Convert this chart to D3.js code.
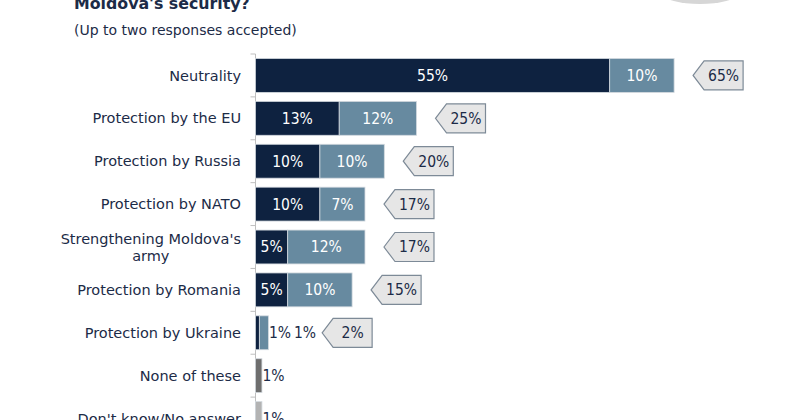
<!DOCTYPE html>
<html><head><meta charset="utf-8">
<script src="https://cdn.jsdelivr.net/npm/d3@7"></script>
<style>body{margin:0;background:#fff;}svg{display:block;font-family:"DejaVu Sans",sans-serif;}.num{font-family:"DejaVu Sans Condensed","DejaVu Sans",sans-serif;font-stretch:condensed;}</style>
</head><body><svg id="c" width="800" height="420"></svg>
<script>
const categories = ["Neutrality","Protection by the EU","Protection by Russia","Protection by NATO","Strengthening Moldova's army","Protection by Romania","Protection by Ukraine","None of these","Don't know/No answer"];
const firstChoice = [55,13,10,10,5,5,0.6,1,1];
const secondChoice = [10,12,10,7,12,10,1.4,0,0];
const totals = [65,25,20,17,17,15,2,null,null];
const singleColors = [null,null,null,null,null,null,null,"#6e6e6e","#b3b3b3"];
const labelLines = {"Strengthening Moldova's army":["Strengthening Moldova's","army"]};

const svg = d3.select("#c");
const navy="#0e2240", steel="#678aa0", textCol="#1c2b47";
const x = d3.scaleLinear().domain([0,100]).range([255.5,899.5]);
const y = d3.scaleBand().domain(categories).range([54,440]).paddingInner(0.21).paddingOuter(0.105);

// decorative shape top right
svg.append("ellipse").attr("cx",700).attr("cy",-6).attr("rx",37).attr("ry",10).attr("fill","#d6d6d6");

svg.append("text").attr("x",74).attr("y",9).attr("font-size",15.8).attr("font-weight","bold").attr("fill",textCol).text("Moldova's security?");
svg.append("text").attr("x",74).attr("y",35).attr("font-size",14).attr("fill",textCol).text("(Up to two responses accepted)");

// axis
const ax = svg.append("g").attr("transform",`translate(${x(0)},0)`);
ax.append("line").attr("y1",54).attr("y2",440).attr("stroke","#bfbfbf");
ax.selectAll("line.t").data(d3.range(categories.length+1)).join("line").attr("class","t")
  .attr("x1",-5).attr("x2",0).attr("y1",i=>54+i*y.step()).attr("y2",i=>54+i*y.step()).attr("stroke","#bfbfbf");

const fmt = v => Math.round(v)+"%";
const labelsG = svg.append("g").attr("font-size",14.5).attr("fill",textCol);
categories.forEach((c,i)=>{
  const cy = y(c)+y.bandwidth()/2;
  const lines = labelLines[c] || [c];
  const g = labelsG.append("g");
  const lh = 17;
  const ts = lines.map((l,j)=>g.append("text").attr("y",cy+(j-(lines.length-1)/2)*lh).attr("dy","0.35em").attr("text-anchor","middle").text(l));
  const w = d3.max(ts,t=>t.node().getComputedTextLength());
  ts.forEach(t=>t.attr("x",241-w/2));
});

const barsG = svg.append("g");
categories.forEach((c,i)=>{
  const y0=y(c), h=y.bandwidth(), cy=y0+h/2;
  const a=firstChoice[i], b=secondChoice[i];
  const colA = singleColors[i]||navy;
  barsG.append("rect").attr("x",x(0)).attr("y",y0).attr("width",x(a)-x(0)).attr("height",h).attr("fill",colA).attr("stroke","#d3d9df").attr("stroke-width",0.8);
  if(b>0) barsG.append("rect").attr("x",x(a)).attr("y",y0).attr("width",x(a+b)-x(a)).attr("height",h).attr("fill",steel).attr("stroke","#d3d9df").attr("stroke-width",0.8);
  let outX = x(a+b)+0.5;
  const vals=[[a,0,a],[b,a,a+b]];
  vals.forEach(([v,s,e],k)=>{
    if(v<=0) return;
    const wseg = x(e)-x(s);
    const t = barsG.append("text").attr("class","num").attr("font-size",15.5).attr("dy","0.35em").attr("y",cy).text(fmt(v));
    if(wseg>24){ t.attr("x",(x(s)+x(e))/2).attr("text-anchor","middle").attr("fill","#fff"); }
    else { t.attr("x",outX).attr("fill",textCol); outX += t.node().getComputedTextLength()+3; }
  });
  if(totals[i]!=null){
    const tip = Math.max(x(totals[i])+19, outX+3);
    const w=50, hh=29, nose=11;
    const top=cy-hh/2;
    barsG.append("path").attr("d",`M${tip},${cy} L${tip+nose},${top} L${tip+w},${top} L${tip+w},${top+hh} L${tip+nose},${top+hh} Z`)
      .attr("fill","#e6e6e6").attr("stroke","#7d8a97").attr("stroke-width",1.2);
    barsG.append("text").attr("class","num").attr("x",tip+nose+(w-nose)/2).attr("y",cy).attr("dy","0.35em").attr("text-anchor","middle").attr("font-size",15.5).attr("fill",textCol).text(totals[i]+"%");
  }
});
</script></body></html>
